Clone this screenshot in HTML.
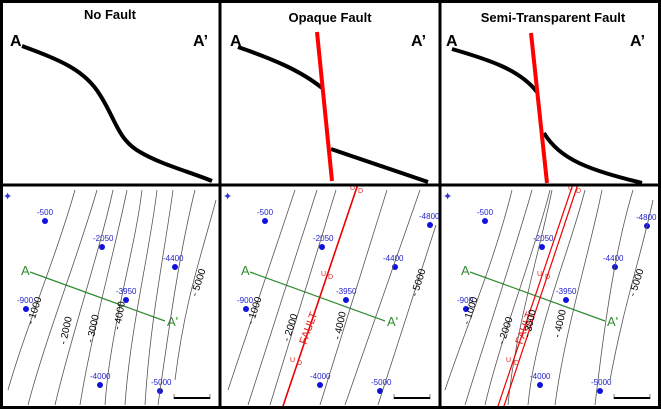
<!DOCTYPE html>
<html><head><meta charset="utf-8"><style>
html,body{margin:0;padding:0;background:#fff}
svg{display:block}
.t{font-family:"Liberation Sans",sans-serif;font-weight:bold;font-size:13px;fill:#000}
.ab{font-family:"Liberation Sans",sans-serif;font-weight:bold;font-size:16px;fill:#000}
.lb{font-family:"Liberation Sans",sans-serif;font-size:8px;fill:#2222cc}
.cl{font-family:"Liberation Sans",sans-serif;font-size:10px;fill:#000}
.g{font-family:"Liberation Sans",sans-serif;font-size:13px;fill:#2e8b2e}
.c{fill:none;stroke:#555;stroke-width:0.8}
.r{font-family:"Liberation Sans",sans-serif;font-size:7px;fill:#e02020}
</style></head><body>
<svg width="661" height="409" viewBox="0 0 661 409" xmlns="http://www.w3.org/2000/svg">
<defs>
<g id="base">
  <text x="3" y="200" style="font-size:11px;fill:#3333cc">✦</text>
  <circle cx="45" cy="221" r="3" fill="#1111dd"/><text class="lb" x="37" y="215">-500</text>
  <circle cx="102" cy="247" r="3" fill="#1111dd"/><text class="lb" x="93" y="241">-2050</text>
  <circle cx="175" cy="267" r="3" fill="#1111dd"/><text class="lb" x="163" y="261">-4400</text>
  <circle cx="126" cy="300" r="3" fill="#1111dd"/><text class="lb" x="116" y="294">-3950</text>
  <circle cx="26" cy="309" r="3" fill="#1111dd"/><text class="lb" x="17" y="303">-900</text>
  <circle cx="100" cy="385" r="3" fill="#1111dd"/><text class="lb" x="90" y="379">-4000</text>
  <circle cx="160" cy="391" r="3" fill="#1111dd"/><text class="lb" x="151" y="385">-5000</text>
  <line x1="30" y1="272" x2="165" y2="321" stroke="#2e8b2e" stroke-width="1.2"/>
  <text class="g" x="21" y="275">A</text><text class="g" x="167" y="326">A'</text>
  <rect x="174" y="397" width="36" height="2" fill="#000"/>
  <line x1="174" y1="394" x2="174" y2="399" stroke="#000" stroke-width="0.5"/>
  <line x1="210" y1="394" x2="210" y2="399" stroke="#000" stroke-width="0.5"/>
</g>
</defs>
<text class="t" x="110" y="19" text-anchor="middle">No Fault</text>
<text class="t" x="330" y="22" text-anchor="middle">Opaque Fault</text>
<text class="t" x="553" y="22" text-anchor="middle">Semi-Transparent Fault</text>
<text class="ab" x="10" y="46">A</text><text class="ab" x="193" y="46">A’</text>
<text class="ab" x="230" y="46">A</text><text class="ab" x="411" y="46">A’</text>
<text class="ab" x="446" y="46">A</text><text class="ab" x="630" y="46">A’</text>
<path d="M22,46 C60,60 85,70 100,95 C115,118 118,140 140,152 C160,164 190,172 212,181" fill="none" stroke="#000" stroke-width="4"/>
<path d="M238,47 C270,58 300,70 322,88" fill="none" stroke="#000" stroke-width="4"/>
<path d="M331,149 L428,182" fill="none" stroke="#000" stroke-width="4"/>
<line x1="317" y1="32" x2="332" y2="181" stroke="#f00" stroke-width="4"/>
<path d="M452,49 C490,60 520,70 537,92" fill="none" stroke="#000" stroke-width="4"/>
<path d="M544,133 C560,160 590,170 642,183" fill="none" stroke="#000" stroke-width="4"/>
<line x1="531" y1="33" x2="547" y2="183" stroke="#f00" stroke-width="4"/>

<g>
  <use href="#base"/>
  <path class="c" d="M8,390 C25,330 55,260 75,190"/>
  <path class="c" d="M28,405 C45,340 80,250 97,190"/>
  <path class="c" d="M55,405 C70,340 100,250 113,190"/>
  <path class="c" d="M80,405 C92,330 115,250 127,190"/>
  <path class="c" d="M105,405 C110,330 135,250 142,190"/>
  <path class="c" d="M125,405 C130,330 150,250 157,190"/>
  <path class="c" d="M145,405 C150,320 165,250 173,190"/>
  <path class="c" d="M158,405 C170,320 180,250 195,190"/>
  <path class="c" d="M175,380 C185,300 200,260 216,200"/>
  <text class="cl" transform="translate(33,325) rotate(-72)">- 1000</text>
  <text class="cl" transform="translate(66,345) rotate(-78)">- 2000</text>
  <text class="cl" transform="translate(93,343) rotate(-78)">- 3000</text>
  <text class="cl" transform="translate(120,330) rotate(-80)">- 4000</text>
  <text class="cl" transform="translate(197,297) rotate(-72)">- 5000</text>
</g>
<g transform="translate(220,0)">
  <use href="#base"/>
  <circle cx="210" cy="225" r="3" fill="#1111dd"/><text class="lb" x="199" y="219">-4800</text>
  <line class="c" x1="8" y1="390" x2="75" y2="190"/>
  <line class="c" x1="28" y1="405" x2="97" y2="190"/>
  <line class="c" x1="50" y1="405" x2="116" y2="190"/>
  <line class="c" x1="100" y1="405" x2="167" y2="190"/>
  <line class="c" x1="125" y1="405" x2="200" y2="190"/>
  <line class="c" x1="158" y1="405" x2="216" y2="225"/>
  <line x1="138" y1="184" x2="62" y2="409" stroke="#e00" stroke-width="1.6"/>
  <text class="r" x="130" y="190">U</text><text class="r" x="138" y="193">D</text>
  <text class="r" x="101" y="276">U</text><text class="r" x="108" y="279">D</text>
  <text class="r" x="70" y="362">U</text><text class="r" x="77" y="365">D</text>
  <text class="r" transform="translate(86,345) rotate(-70)" style="font-size:11px">FAULT</text>
  <text class="cl" transform="translate(33,325) rotate(-72)">- 1000</text>
  <text class="cl" transform="translate(69,342) rotate(-72)">- 2000</text>
  <text class="cl" transform="translate(120,340) rotate(-78)">- 4000</text>
  <text class="cl" transform="translate(197,297) rotate(-72)">- 5000</text>
</g>
<g transform="translate(440,0)">
  <use href="#base"/>
  <circle cx="207" cy="226" r="3" fill="#1111dd"/><text class="lb" x="196" y="220">-4800</text>
  <path class="c" d="M5,390 C25,330 55,260 72,190"/>
  <path class="c" d="M25,405 C45,340 75,250 92,190"/>
  <path class="c" d="M45,405 C60,340 95,250 110,190"/>
  <path class="c" d="M68,405 C75,330 100,250 112,190"/>
  <path class="c" d="M88,405 C95,330 130,250 145,190"/>
  <path class="c" d="M115,405 C125,330 150,250 162,190"/>
  <path class="c" d="M155,405 C165,320 175,250 193,190"/>
  <path class="c" d="M170,380 C185,300 200,260 213,200"/>
  <line x1="133" y1="184" x2="57" y2="409" stroke="#e00" stroke-width="1.2"/>
  <line x1="138" y1="184" x2="63" y2="409" stroke="#e00" stroke-width="1.2"/>
  <text class="r" x="128" y="190">U</text><text class="r" x="136" y="193">D</text>
  <text class="r" x="97" y="276">U</text><text class="r" x="105" y="279">D</text>
  <text class="r" x="66" y="362">U</text><text class="r" x="74" y="365">D</text>
  <text class="r" transform="translate(82,345) rotate(-70)" style="font-size:11px">FAULT</text>
  <text class="cl" transform="translate(29,325) rotate(-72)">- 1000</text>
  <text class="cl" transform="translate(64,345) rotate(-72)">- 2000</text>
  <text class="cl" transform="translate(90,338) rotate(-78)">- 3000</text>
  <text class="cl" transform="translate(120,338) rotate(-78)">- 4000</text>
  <text class="cl" transform="translate(195,297) rotate(-72)">- 5000</text>
</g>
<rect x="1.5" y="1.5" width="658" height="406" fill="none" stroke="#000" stroke-width="3"/>
<line x1="220" y1="0" x2="220" y2="409" stroke="#000" stroke-width="3"/>
<line x1="440" y1="0" x2="440" y2="409" stroke="#000" stroke-width="3"/>
<line x1="0" y1="185" x2="661" y2="185" stroke="#000" stroke-width="3"/>
</svg>
</body></html>
